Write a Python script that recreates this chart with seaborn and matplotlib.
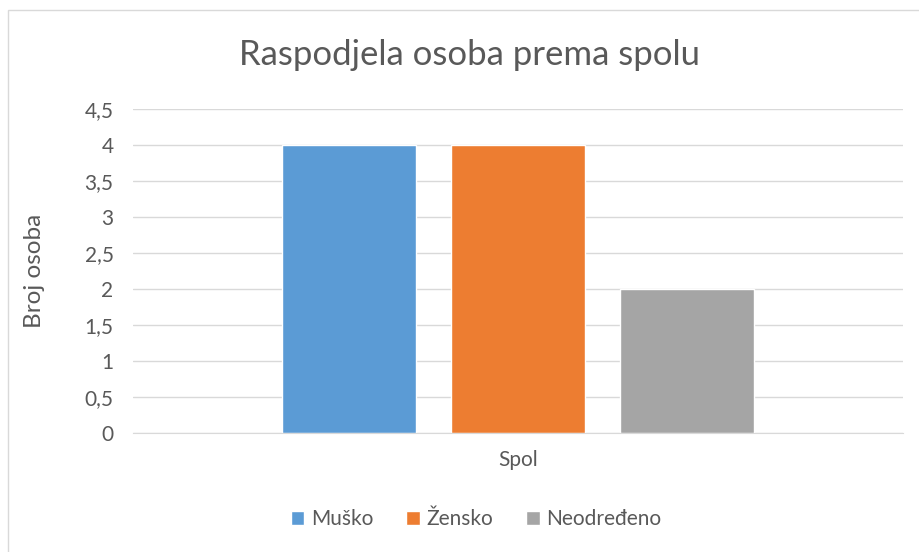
import pandas as pd
import matplotlib.pyplot as plt
import seaborn as sns
from matplotlib.ticker import FuncFormatter, MultipleLocator
from matplotlib.patches import Rectangle

# data
kategorija = ["Spol", "Spol", "Spol"]
spol = ["Muško", "Žensko", "Neodređeno"]
broj = [4, 4, 2]
boje = ["#5B9BD5", "#ED7D31", "#A5A5A5"]

df = pd.DataFrame({"kategorija": kategorija, "spol": spol, "broj": broj})

sns.set_style("white")
plt.rcParams["font.family"] = ["Lato", "DejaVu Sans"]
txt = "#595959"

fig = plt.figure(figsize=(9.19, 5.52), dpi=100)
ax = fig.add_axes([133 / 919, 119 / 552, 770 / 919, 324 / 552])

sns.barplot(data=df, x="kategorija", y="broj", hue="spol", palette=boje,
            width=0.66, gap=0.21, saturation=1, ax=ax, legend=True)

ax.set_xlim(-0.5, 0.5)
ax.set_ylim(0, 4.5)
ax.yaxis.set_major_locator(MultipleLocator(0.5))
ax.yaxis.set_major_formatter(FuncFormatter(lambda v, p: f"{v:g}".replace(".", ",")))
ax.grid(axis="y", color="#d9d9d9", linewidth=1)
ax.set_axisbelow(True)
for s in ["top", "right", "left"]:
    ax.spines[s].set_visible(False)
ax.spines["bottom"].set_color("#d9d9d9")
ax.tick_params(axis="both", length=0, labelsize=15, colors=txt)
ax.tick_params(axis="y", pad=14)
ax.tick_params(axis="x", pad=12)
ax.set_xlabel("")
ax.set_ylabel("Broj osoba", fontsize=17.5, color=txt)
ax.yaxis.set_label_coords(-(133 - 45) / 770, 0.5)

handles, labels = ax.get_legend_handles_labels()
ax.get_legend().remove()
fig.legend(handles, labels, loc="center", bbox_to_anchor=(476 / 919, 1 - 519 / 552),
           ncol=3, frameon=False, fontsize=15, labelcolor=txt,
           handlelength=0.65, handleheight=0.65, handletextpad=0.3, columnspacing=1.6)

fig.text(470 / 919, 1 - 55 / 552, "Raspodjela osoba prema spolu", ha="center", va="center",
         fontsize=25, color=txt)

fig.patches.append(Rectangle((8 / 919, -0.1), 1.2, 1 - 10 / 552 + 0.1, transform=fig.transFigure,
                             fill=False, edgecolor="#d9d9d9", linewidth=1))

fig.savefig("out.png", dpi=100)
